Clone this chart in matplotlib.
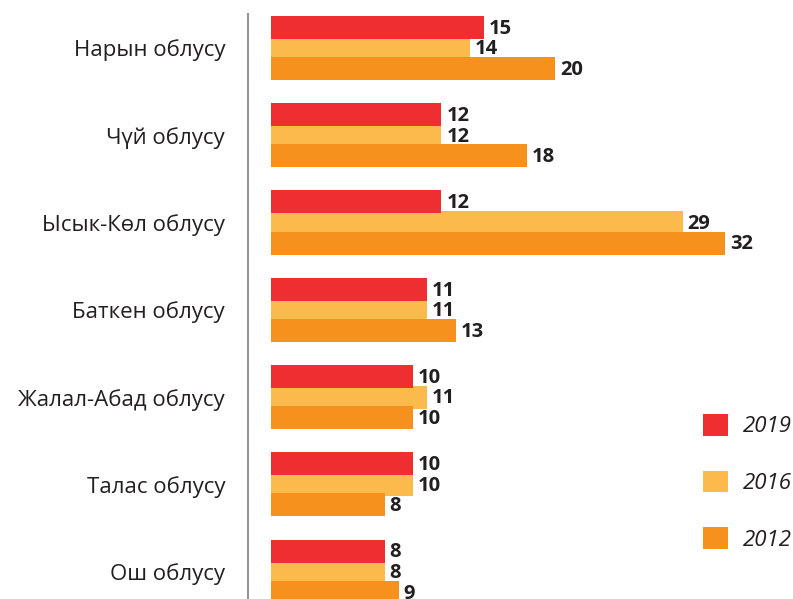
import numpy as np
import matplotlib.pyplot as plt

regions = ["Нарын облусу", "Чүй облусу", "Ысык-Көл облусу", "Баткен облусу",
           "Жалал-Абад облусу", "Талас облусу", "Ош облусу"]
years = ["2019", "2016", "2012"]
v2019 = [15, 12, 12, 11, 10, 10, 8]
v2016 = [14, 12, 29, 11, 11, 10, 8]
v2012 = [20, 18, 32, 13, 10, 8, 9]
colors = ["#EE2E31", "#FCB94C", "#F6911E"]

plt.rcParams['font.family'] = ['Open Sans', 'DejaVu Sans']
dark = "#231F20"

fig = plt.figure(figsize=(7.93, 5.99), dpi=100)
ax = fig.add_axes([248/793, 0, 1 - 248/793, 1 - 14/599])

y = np.arange(len(regions))
h = 0.263
off = 0.236
# middle series goes underneath, outer bars overlap it
b16 = ax.barh(y, v2016, height=h, color=colors[1], zorder=1, label=years[1])
b19 = ax.barh(y - off, v2019, height=h, color=colors[0], zorder=2, label=years[0])
b12 = ax.barh(y + off, v2012, height=h, color=colors[2], zorder=2, label=years[2])

for bars, vals, dy in [(b19, v2019, -off), (b16, v2016, 0), (b12, v2012, off)]:
    for yi, v in zip(y, vals):
        ax.annotate(str(v), (v, yi + dy), xytext=(3.5, -1), textcoords="offset points",
                    va="center", ha="left", fontsize=14.5, fontweight="bold", color=dark)

ax.set_xlim(-1.62, 36.76)
ax.set_ylim(6.313, -0.388)
ax.set_yticks(y)
ax.set_yticklabels(regions, fontsize=16, color=dark)
ax.tick_params(axis="y", length=0, pad=16.5)
ax.set_xticks([])
for s in ["top", "right", "bottom"]:
    ax.spines[s].set_visible(False)
ax.spines["left"].set_color("#939598")
ax.spines["left"].set_linewidth(1.5)

handles = [b19, b16, b12]
ax.legend(handles, years, loc="upper left", bbox_to_anchor=(703/793, 1 - 414/599),
          bbox_transform=fig.transFigure, frameon=False, borderpad=0, borderaxespad=0,
          handlelength=1.125, handleheight=1.125, handletextpad=0.68, labelspacing=1.5,
          prop={"size": 16, "style": "italic"}, labelcolor=dark)

fig.savefig("out.png", dpi=100)
